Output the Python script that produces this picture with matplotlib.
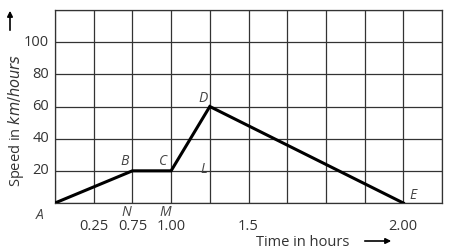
import matplotlib
matplotlib.use("Agg")
import matplotlib.pyplot as plt

# grid-column positions of the path points (columns are unevenly labelled in the source)
path_x = [0, 2, 3, 4, 9]
path_speed = [0, 20, 20, 60, 0]
point_names = ["A", "B", "C", "D", "E"]

xtick_pos = [1, 2, 3, 5, 9]
xtick_labels = ["0.25", "0.75", "1.00", "1.5", "2.00"]
ytick_vals = [20, 40, 60, 80, 100]

extra_names = ["N", "M", "L"]
extra_x = [2, 3, 4]
extra_y = [0, 0, 20]

plt.rcParams['font.family'] = ['Open Sans', 'DejaVu Sans']

fig = plt.figure(figsize=(4.5, 2.52), dpi=100)
ax = fig.add_axes([55/450, 1-203/252, 387/450, 193/252])
ax.set_xlim(0, 10)
ax.set_ylim(0, 120)
ax.set_xticks(range(0, 11))
ax.set_yticks(range(0, 121, 20))
ax.grid(True, color='#333333', linewidth=0.9)
ax.set_axisbelow(True)
for s in ax.spines.values():
    s.set_color('#333333')
    s.set_linewidth(0.9)
ax.tick_params(length=0, labelbottom=False, labelleft=False)

ax.plot(path_x, path_speed, color='black', linewidth=2.2, solid_joinstyle='miter', zorder=3)

tc = '#333333'
for v in ytick_vals:
    ax.text(-0.15, v, str(v), ha='right', va='center', fontsize=10.5, color=tc)
for p, l in zip(xtick_pos, xtick_labels):
    ax.text(p, -10, l, ha='center', va='top', fontsize=10.5, color=tc)

# point letters
offs = {"A": (-0.3, -3, 'right', 'top'), "B": (-0.1, 1, 'right', 'bottom'),
        "C": (-0.1, 1, 'right', 'bottom'), "D": (-0.05, 0, 'right', 'bottom'),
        "E": (0.15, 0, 'left', 'bottom')}
for x, y, n in zip(path_x, path_speed, point_names):
    dx, dy, ha, va = offs[n]
    ax.text(x + dx, y + dy, n, ha=ha, va=va, fontsize=10, style='italic', color='#444444')
for x, y, n in zip(extra_x, extra_y, extra_names):
    ax.text(x - 0.15, y - 1, n, ha='center', va='top' if y == 0 else 'bottom',
            fontsize=10, style='italic', color='#444444')
# L placed slightly above the 20 line
ax.texts[-1].set_position((extra_x[2] - 0.15, extra_y[2] - 4))
ax.texts[-1].set_va('bottom')

# axis labels
fig.text(16/450, 1-120/252, 'Speed in $\\it{km/hours}$', rotation=90, ha='center', va='center',
         fontsize=10.5, color=tc)
fig.text(303/450, 1-242/252, 'Time in hours', ha='center', va='center', fontsize=10.5, color=tc)
fig.add_artist(matplotlib.patches.FancyArrowPatch((362/450, 1-241/252), (394/450, 1-241/252),
               transform=fig.transFigure, arrowstyle='-|>', mutation_scale=8, color='black', linewidth=1.2))
fig.add_artist(matplotlib.patches.FancyArrowPatch((10/450, 1-33/252), (10/450, 1-8/252),
               transform=fig.transFigure, arrowstyle='-|>', mutation_scale=8, color='black', linewidth=1.2))

fig.savefig('out.png', dpi=100)
